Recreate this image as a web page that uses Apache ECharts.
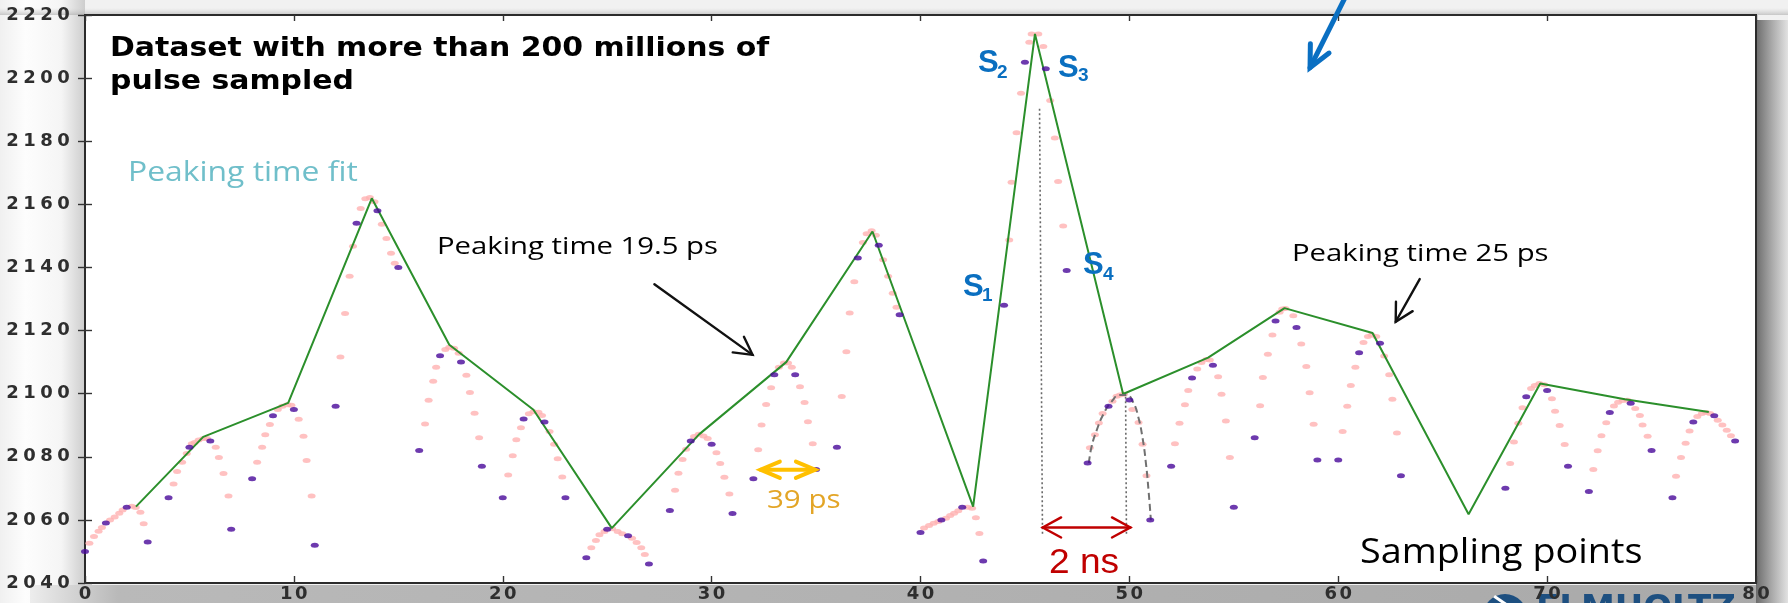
<!DOCTYPE html>
<html><head><meta charset="utf-8">
<script src="https://cdn.jsdelivr.net/npm/echarts@6/dist/echarts.min.js"></script>
<style>html,body{margin:0;padding:0;background:#f1f1f1;overflow:hidden}#c{width:1788px;height:603px}</style>
</head><body><div id="c"></div>
<script>
// ---- axis ----
const xMin = 0, xMax = 80, xStep = 10;
const yMin = 2040, yMax = 2220, yStep = 20;

// ---- sampling points (integer sample index) ----
const sampleX = [0,1,2,3,4,5,6,7,8,9,10,11,12,13,14,15,16,17,18,19,20,21,22,23,24,25,26,27,28,29,30,31,32,33,34,35,36,37,38,39,40,41,42,43,44,45,46,47,48,49,50,51,52,53,54,55,56,57,58,59,60,61,62,63,68,69,70,71,72,73,74,75,76,77,78,79];
const sampleY = [2050,2059,2064,2053,2067,2083,2085,2057,2073,2093,2095,2052,2096,2154,2158,2140,2082,2112,2110,2077,2067,2092,2091,2067,2048,2057,2055,2046,2063,2085,2084,2062,2073,2106,2106,2076,2083,2143,2147,2125,2056,2060,2064,2047,2128,2205,2203,2139,2078,2096,2098,2060,2077,2105,2109,2064,2086,2123,2121,2079,2079,2113,2116,2074,2070,2099,2101,2077,2069,2094,2097,2082,2067,2091,2093,2085];

// ---- shifted-phase samples (pink) ----
const phaseX = [
 0.21,0.43,0.65,0.81,1.20,1.42,1.64,1.80,2.24,2.43,2.65,2.81,
 4.24,4.41,4.65,4.87,5.11,5.25,5.44,5.66,5.84,6.26,6.41,6.63,6.87,
 8.24,8.48,8.63,8.85,9.23,9.45,9.69,9.88,10.23,10.46,10.61,10.85,
 12.23,12.45,12.67,12.83,13.20,13.42,13.64,13.86,14.21,14.43,14.65,14.83,
 16.28,16.45,16.67,16.81,17.25,17.44,17.67,17.89,18.26,18.43,18.65,18.87,
 20.26,20.48,20.65,20.87,21.25,21.47,21.71,21.88,22.24,22.46,22.63,22.85,
 24.24,24.46,24.63,24.87,25.24,25.50,25.72,26.19,26.41,26.63,26.80,
 28.25,28.41,28.61,28.78,29.16,29.38,29.61,29.81,30.23,30.41,30.61,30.85,
 32.23,32.39,32.61,32.85,33.22,33.46,33.66,33.84,34.23,34.45,34.61,34.84,
 36.23,36.45,36.61,36.83,37.24,37.42,37.66,37.86,38.21,38.45,38.67,38.85,
 40.17,40.41,40.63,40.85,41.22,41.42,41.61,41.81,42.25,42.47,42.65,42.82,
 44.25,44.36,44.60,44.81,45.21,45.32,45.64,45.88,46.21,46.43,46.59,46.83,
 48.11,48.35,48.54,48.72,49.19,49.39,49.55,49.74,50.14,50.44,50.63,50.82,
 52.18,52.40,52.66,52.82,53.25,53.45,53.69,53.85,54.25,54.41,54.62,54.81,
 56.26,56.39,56.63,56.85,57.19,57.32,57.47,57.85,58.23,58.47,58.63,58.82,
 60.21,60.43,60.60,60.82,61.21,61.42,61.60,61.82,62.20,62.44,62.59,62.81,
 68.23,68.41,68.62,68.82,69.23,69.41,69.63,69.86,70.23,70.38,70.60,70.84,
 72.21,72.42,72.60,72.83,73.20,73.40,73.62,73.85,74.22,74.44,74.57,74.81,
 76.17,76.41,76.63,76.82,77.19,77.41,77.61,77.80,78.17,78.39,78.60,78.80
];
const phaseY = [
 2052.6,2054.7,2056.4,2057.6,2060.0,2060.9,2062.1,2063.1,2064.3,2063.9,2062.4,2058.8,
 2071.4,2075.3,2078.3,2081.0,2084.1,2084.5,2085.3,2085.8,2085.8,2083.0,2079.8,2074.7,2067.6,
 2078.3,2083.0,2087.0,2090.2,2095.0,2096.0,2096.5,2096.3,2091.9,2086.5,2078.8,2067.6,
 2111.6,2125.4,2137.2,2146.7,2158.7,2161.8,2162.2,2160.8,2153.7,2149.2,2144.5,2141.3,
 2090.4,2097.9,2103.9,2108.4,2114.0,2114.7,2114.4,2112.8,2105.8,2100.4,2093.8,2086.0,
 2074.2,2080.3,2085.4,2089.2,2093.6,2094.3,2094.1,2093.1,2088.0,2084.0,2079.4,2073.6,
 2051.2,2053.5,2055.3,2056.3,2057.2,2056.3,2055.6,2054.2,2052.8,2051.2,2049.0,
 2069.4,2074.8,2079.1,2082.4,2086.4,2087.1,2086.6,2085.8,2081.3,2077.9,2073.5,2068.2,
 2082.2,2090.1,2096.6,2101.9,2108.4,2109.7,2109.7,2108.4,2102.2,2097.2,2091.1,2084.1,
 2099.1,2113.3,2125.6,2135.5,2147.9,2150.7,2151.6,2150.2,2142.4,2137.2,2131.8,2127.4,
 2057.4,2058.2,2058.9,2059.5,2060.5,2061.4,2062.1,2062.9,2064.0,2063.7,2060.7,2055.7,
 2148.7,2167.0,2182.7,2195.2,2211.4,2214.0,2214.0,2210.0,2192.9,2181.0,2167.2,2153.1,
 2082.9,2087.0,2090.7,2093.7,2097.6,2099.2,2099.6,2099.8,2095.0,2090.9,2084.0,2074.0,
 2084.1,2090.6,2096.5,2101.0,2107.8,2109.9,2110.8,2110.7,2105.4,2099.8,2091.3,2079.8,
 2096.2,2105.1,2112.5,2118.6,2125.8,2126.8,2127.0,2124.7,2115.7,2108.6,2100.3,2090.3,
 2088.0,2096.0,2102.6,2108.4,2116.2,2118.1,2118.6,2118.1,2111.9,2106.0,2098.2,2087.5,
 2077.9,2084.7,2090.6,2095.5,2101.6,2102.6,2103.2,2102.8,2098.4,2094.4,2089.9,2083.9,
 2076.0,2081.9,2086.7,2090.8,2096.1,2097.3,2097.8,2097.9,2095.3,2093.1,2090.1,2086.5,
 2073.8,2079.8,2084.3,2088.2,2092.8,2093.7,2094.0,2093.7,2091.6,2090.1,2088.4,2086.7
];

// ---- peaking time fit (green) ----
const fitX = [2.44,5.66,9.73,13.73,17.44,21.47,25.22,29.40,33.57,37.70,42.52,45.48,49.70,53.77,57.43,61.64,66.24,69.67,73.72,77.74];
const fitY = [2064.2,2086.3,2097.1,2161.9,2115.5,2094.9,2057.4,2087.1,2110.0,2151.4,2064.2,2214.0,2099.9,2111.4,2127.1,2119.2,2061.8,2103.2,2098.2,2094.2];

// ---- single pulse curve (grey dashed) ----
const pulseX = [48.06,48.19,48.43,48.75,49.15,49.55,49.86,50.18,50.42,50.63,50.79,50.92,51.03];
const pulseY = [2078.0,2083.2,2088.3,2093.4,2097.5,2099.6,2099.6,2097.3,2092.8,2086.0,2078.1,2069.1,2059.9];

// ---- guide lines (dotted) : x1,y1,x2,y2 ----
const guides = [[45.70,2190.3,45.84,2055.5],[49.82,2099.0,49.86,2055.5]];

// ---- arrows : x1,y1,x2,y2,style,doubleHeaded ----
const arrows = [
 [27.26,2134.7,31.96,2112.3,0,0],
 [63.90,2136.3,62.75,2122.8,0,0],
 [60.40,2226.5,58.65,2203.3,1,0],
 [32.34,2075.9,34.96,2075.9,2,1],
 [45.85,2057.6,50.05,2057.6,3,1]
];
const ARROW_STYLES = [
 {color:'#111111', width:2.4, head:20, angle:0.5},
 {color:'#0a6fc2', width:5, head:24, angle:0.45},
 {color:'#ffc000', width:4, head:21, angle:0.4},
 {color:'#c00000', width:2.4, head:21, angle:0.5}
];

const zip = (a, b) => a.map((v, i) => [v, b[i]]);
const chart = echarts.init(document.getElementById('c'));

function arrowItem(params, api) {
  const a = api.coord([api.value(0), api.value(1)]);
  const b = api.coord([api.value(2), api.value(3)]);
  const st = ARROW_STYLES[api.value(4)];
  const dbl = api.value(5);
  const head = (tip, from) => {
    const ang = Math.atan2(tip[1] - from[1], tip[0] - from[0]);
    const L = st.head, w = st.angle;
    return {type:'polyline', shape:{points:[
      [tip[0] - L*Math.cos(ang - w), tip[1] - L*Math.sin(ang - w)], tip,
      [tip[0] - L*Math.cos(ang + w), tip[1] - L*Math.sin(ang + w)]]},
      style:{stroke:st.color, lineWidth:st.width, fill:null, lineJoin:'miter', lineCap:'round'}};
  };
  const ch = [{type:'line', shape:{x1:a[0], y1:a[1], x2:b[0], y2:b[1]}, style:{stroke:st.color, lineWidth:st.width, lineCap:'round'}}, head(b, a)];
  if (dbl) ch.push(head(a, b));
  return {type:'group', children:ch};
}
function guideItem(params, api) {
  const a = api.coord([api.value(0), api.value(1)]);
  const b = api.coord([api.value(2), api.value(3)]);
  return {type:'line', shape:{x1:a[0], y1:a[1], x2:b[0], y2:b[1]}, style:{stroke:'#6a6a6a', lineWidth:1.6, lineDash:[2,2.5]}};
}

const txt = (x, y, text, font, fill, extra) => Object.assign({type:'text', x:x, y:y, z:50,
  style:{text:text, font:font, fill:fill, textAlign:'left', textVerticalAlign:'middle'}}, extra || {});

const bg = [
  {type:'rect', z:-100, shape:{x:0,y:0,width:1788,height:603}, style:{fill:'#f1f1f1'}},
  {type:'rect', z:-99, shape:{x:0,y:0,width:85,height:603}, style:{fill:new echarts.graphic.LinearGradient(0,0,1,0,[{offset:0,color:'#f0f0f0'},{offset:0.3,color:'#fdfdfd'},{offset:0.72,color:'#f5f5f5'},{offset:1,color:'#cdcdcd'}])}},
  {type:'rect', z:-99, shape:{x:0,y:8,width:1788,height:7}, style:{fill:new echarts.graphic.LinearGradient(0,0,0,1,[{offset:0,color:'rgba(200,200,200,0)'},{offset:1,color:'rgba(170,170,170,0.6)'}])}},
  {type:'rect', z:-98, shape:{x:30,y:585,width:1758,height:18}, style:{fill:new echarts.graphic.LinearGradient(0,0,1,0,[{offset:0,color:'#ededed'},{offset:0.05,color:'#b9b9b9'},{offset:1,color:'#a9a9a9'}])}},
  {type:'rect', z:-97, shape:{x:1756,y:20,width:32,height:583}, style:{fill:new echarts.graphic.LinearGradient(0,0,1,0,[{offset:0,color:'#6c6c6c'},{offset:0.5,color:'#aaaaaa'},{offset:1,color:'#e2e2e2'}])}},
  {type:'circle', z:-90, shape:{cx:1505,cy:616,r:22}, style:{fill:'#1d4f80'}},
  {type:'rect', z:-89, rotation:-0.6, x:1495, y:595, shape:{x:0,y:0,width:30,height:3}, style:{fill:'#ffffff'}},
  {type:'text', z:-90, x:1536, y:593, style:{text:'ELMHOLTZ', font:'bold 34px "DejaVu Sans"', fill:'#1d4f80', textAlign:'left', textVerticalAlign:'top'}}
];

const texts = [
  txt(110, 49, 'Dataset with more than 200 millions of', 'bold 26px "DejaVu Sans"', '#000', {scaleX:1.15}),
  txt(110, 82, 'pulse sampled', 'bold 26px "DejaVu Sans"', '#000', {scaleX:1.15}),
  txt(128, 173, 'Peaking time fit', '27px "Open Sans"', '#70bfca', {scaleX:1.18}),
  txt(437, 247, 'Peaking time 19.5 ps', '24px "Open Sans"', '#000', {scaleX:1.22}),
  txt(1292, 254, 'Peaking time 25 ps', '24px "Open Sans"', '#000', {scaleX:1.22}),
  txt(767, 501, '39 ps', '25px "Open Sans"', '#e3a526', {scaleX:1.18}),
  txt(1049, 563, '2 ns', '35px "Liberation Sans"', '#c00000', {scaleX:1.06}),
  txt(1360, 553, 'Sampling points', '35px "Open Sans"', '#000', {scaleX:1.08}),
  txt(978, 63, 'S', 'bold 31px "Liberation Sans"', '#0a6fc0'),
  txt(997, 73, '2', 'bold 19px "Liberation Sans"', '#0a6fc0'),
  txt(1058, 68, 'S', 'bold 31px "Liberation Sans"', '#0a6fc0'),
  txt(1078, 76, '3', 'bold 19px "Liberation Sans"', '#0a6fc0'),
  txt(1083, 265, 'S', 'bold 31px "Liberation Sans"', '#0a6fc0'),
  txt(1103, 275, '4', 'bold 19px "Liberation Sans"', '#0a6fc0'),
  txt(963, 287, 'S', 'bold 31px "Liberation Sans"', '#0a6fc0'),
  txt(982, 296, '1', 'bold 19px "Liberation Sans"', '#0a6fc0')
];

// tick labels: digits spread out to mimic the wide tick font of the original
const spread = v => String(v).split('').map(c => '{d|' + c + '}').join('');
const digitStyle = {fontSize:18, fontWeight:'bold', color:'#2e2e2e', fontFamily:'"DejaVu Sans"', width:17, align:'center'};
const option = {
  animation:false,
  backgroundColor:'transparent',
  grid:{left:85, right:32, top:15, bottom:18, show:true, backgroundColor:'#ffffff', borderColor:'#2b2b2b', borderWidth:2},
  xAxis:[
    {type:'value', min:xMin, max:xMax, interval:xStep, position:'bottom', axisLine:{show:false}, splitLine:{show:false},
     axisTick:{inside:true, length:7, lineStyle:{color:'#333', width:1.4}},
     axisLabel:{margin:2, formatter:spread, rich:{d:Object.assign({}, digitStyle, {width:15})}}},
    {type:'value', min:xMin, max:xMax, interval:xStep, position:'top', axisLine:{show:false}, splitLine:{show:false},
     axisTick:{inside:true, length:6, lineStyle:{color:'#333', width:1.4}}, axisLabel:{show:false}}
  ],
  yAxis:[
    {type:'value', min:yMin, max:yMax, interval:yStep, position:'left', axisLine:{show:false}, splitLine:{show:false},
     axisTick:{inside:true, length:7, lineStyle:{color:'#333', width:1.4}},
     axisLabel:{margin:13, formatter:spread, rich:{d:digitStyle}}},
    {type:'value', min:yMin, max:yMax, interval:yStep, position:'right', axisLine:{show:false}, splitLine:{show:false},
     axisTick:{inside:true, length:7, lineStyle:{color:'#333', width:1.4}}, axisLabel:{show:false}}
  ],
  graphic:bg.concat(texts),
  series:[
    {name:'phases', type:'scatter', data:zip(phaseX, phaseY), symbol:'circle', symbolSize:[8,5], itemStyle:{color:'#ffb1b1'}, z:2, silent:true},
    {name:'fit', type:'line', data:zip(fitX, fitY), symbol:'none', lineStyle:{color:'#2b8f2b', width:2}, z:3, silent:true},
    {name:'pulse', type:'line', data:zip(pulseX, pulseY), smooth:true, symbol:'none', lineStyle:{color:'#707070', width:2, type:[7,4]}, z:3, silent:true},
    {name:'samples', type:'scatter', data:zip(sampleX, sampleY), symbol:'circle', symbolSize:[8,5], itemStyle:{color:'#48099a'}, z:4, silent:true},
    {name:'guides', type:'custom', renderItem:guideItem, data:guides, z:5, silent:true, clip:false},
    {name:'arrows', type:'custom', renderItem:arrowItem, data:arrows, z:6, silent:true, clip:false}
  ]
};
chart.setOption(option);
</script>
</body></html>
